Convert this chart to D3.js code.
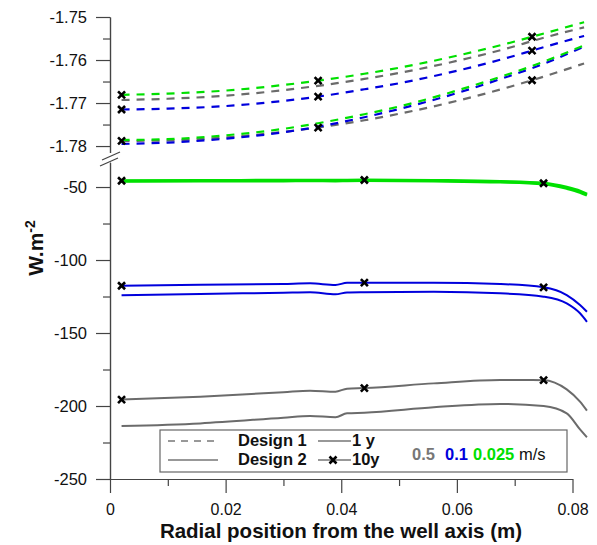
<!DOCTYPE html>
<html>
<head>
<meta charset="utf-8">
<script src="https://cdn.jsdelivr.net/npm/d3@7"></script>
<style>
  body { margin: 0; background: #fff; }
  text { font-family: Arial, "Liberation Sans", sans-serif; }
</style>
</head>
<body>
<div id="chart"></div>
<script>
// ---------------- data ----------------
// Design 1 (dashed, upper broken axis part)
const topX = [0.002, 0.01, 0.02, 0.03, 0.036, 0.044, 0.05, 0.06, 0.07, 0.073, 0.082];
const d1Green10y = [-1.7681, -1.7678, -1.7671, -1.7658, -1.7648, -1.7632, -1.7618, -1.7590, -1.7557, -1.7546, -1.7512];
const d1Gray1y   = [-1.7693, -1.7690, -1.7683, -1.7670, -1.7660, -1.7644, -1.7630, -1.7602, -1.7568, -1.7556, -1.7524];
const d1Blue10y  = [-1.7715, -1.7713, -1.7707, -1.7695, -1.7685, -1.7668, -1.7654, -1.7625, -1.7590, -1.7578, -1.7544];
const d1Green1y  = [-1.7786, -1.7784, -1.7775, -1.7760, -1.7747, -1.7726, -1.7708, -1.7671, -1.7628, -1.7614, -1.7566];
const d1Blue1y   = [-1.7795, -1.7792, -1.7783, -1.7768, -1.7755, -1.7733, -1.7714, -1.7677, -1.7633, -1.7619, -1.7569];
const d1Gray10y  = [-1.7788, -1.7787, -1.7780, -1.7767, -1.7757, -1.7740, -1.7725, -1.7695, -1.7659, -1.7647, -1.7608];
const topMarkerX = [0.002, 0.036, 0.073];

// Design 2 (solid, lower part)
const botX = [0.002, 0.0156, 0.03, 0.0346, 0.039, 0.041, 0.044, 0.056, 0.0675, 0.075, 0.079, 0.0813, 0.0825];
const d2Green10y = [-45.7, -45.5, -45.4, -45.3, -45.4, -45.3, -45.2, -45.5, -46.2, -47.4, -50.2, -52.8, -54.8];
const d2Green1y  = [-46.1, -45.9, -45.8, -45.7, -45.8, -45.7, -45.6, -45.9, -46.6, -47.9, -50.9, -53.6, -55.6];
const d2Blue10y  = [-117.6, -117.0, -116.4, -116.0, -117.1, -115.6, -115.5, -115.5, -116.4, -118.7, -124.0, -130.8, -135.4];
const d2Blue1y   = [-124.2, -123.3, -122.4, -122.1, -123.5, -122.2, -122.0, -121.7, -122.8, -125.1, -129.7, -136.5, -142.3];
const d2Gray10y  = [-195.6, -193.6, -190.6, -189.5, -190.2, -188.1, -187.7, -184.5, -182.2, -182.3, -188.6, -197.0, -203.2];
const d2Gray1y   = [-213.7, -211.9, -208.0, -206.8, -207.7, -205.0, -204.6, -200.9, -198.6, -200.0, -205.0, -216.0, -221.4];
const botMarkerX = [0.002, 0.044, 0.075];

// ticks
const xMajor = [0, 0.02, 0.04, 0.06, 0.08];
const xMinor = [0.01, 0.03, 0.05, 0.07];
const topMajor = [-1.78, -1.77, -1.76, -1.75];
const topMinor = [-1.775, -1.765, -1.755];
const botMajor = [-250, -200, -150, -100, -50];
const botMinor = [-225, -175, -125, -75];

const speeds = ["0.5", "0.1", "0.025"];

// ---------------- setup ----------------
const width = 597, height = 545;
const colors = { gray: "#6b6b6b", blue: "#0000dc", green: "#00e000" };

const svg = d3.select("#chart").append("svg")
  .attr("width", width).attr("height", height);

const x = d3.scaleLinear().domain([0, 0.08]).range([110, 572.5]);
const yTop = d3.scaleLinear().domain([-1.7815, -1.75]).range([152.5, 17]);
const yBot = d3.scaleLinear().domain([-250, -33]).range([479, 162.2]);

const axisColor = "#444";

// ---------------- axes ----------------
function styleAxis(g, size) {
  g.selectAll("path, line").attr("stroke", axisColor).attr("stroke-width", 1.2);
  g.selectAll("text").attr("font-size", size || 16.5).attr("fill", "#111")
    .attr("font-family", "Arial, 'Liberation Sans', sans-serif");
}

svg.append("g").attr("transform", "translate(110,0)")
  .call(d3.axisLeft(yTop).tickValues(topMajor).tickSize(14).tickSizeOuter(0).tickPadding(9)
    .tickFormat(d => d.toFixed(2)))
  .call(styleAxis);
svg.append("g").attr("transform", "translate(110,0)")
  .call(d3.axisLeft(yTop).tickValues(topMinor).tickSize(7).tickSizeOuter(0).tickFormat(""))
  .call(styleAxis);

svg.append("g").attr("transform", "translate(110,0)")
  .call(d3.axisLeft(yBot).tickValues(botMajor).tickSize(14).tickSizeOuter(0).tickPadding(9)
    .tickFormat(d => String(d)))
  .call(styleAxis);
svg.append("g").attr("transform", "translate(110,0)")
  .call(d3.axisLeft(yBot).tickValues(botMinor).tickSize(7).tickSizeOuter(0).tickFormat(""))
  .call(styleAxis);

svg.append("g").attr("transform", "translate(0,479)")
  .call(d3.axisBottom(x).tickValues(xMajor).tickSize(14).tickSizeOuter(0).tickPadding(11)
    .tickFormat(d => d === 0 ? "0" : d.toFixed(2)))
  .call(g => styleAxis(g, 16));
svg.append("g").attr("transform", "translate(0,479)")
  .call(d3.axisBottom(x).tickValues(xMinor).tickSize(7).tickSizeOuter(0).tickFormat(""))
  .call(styleAxis);

// axis break marks
svg.append("rect").attr("x", 105).attr("y", 153).attr("width", 10).attr("height", 9).attr("fill", "#fff");
[[102, 160, 120, 152], [100, 166, 118, 158]].forEach(([x1, y1, x2, y2]) => {
  svg.append("line").attr("x1", x1).attr("y1", y1).attr("x2", x2).attr("y2", y2)
    .attr("stroke", axisColor).attr("stroke-width", 1.2);
});

// axis titles
svg.append("text")
  .attr("transform", "translate(43,248) rotate(-90)")
  .attr("text-anchor", "middle")
  .attr("font-size", 21).attr("font-weight", "bold").attr("fill", "#111")
  .call(t => {
    t.append("tspan").text("W.m");
    t.append("tspan").attr("dy", -8).attr("font-size", 14).text("-2");
  });

svg.append("text")
  .attr("x", 341).attr("y", 538)
  .attr("text-anchor", "middle")
  .attr("font-size", 20.5).attr("font-weight", "bold").attr("fill", "#111")
  .text("Radial position from the well axis (m)");

// ---------------- series ----------------
const series = [
  { xs: topX, ys: d1Gray1y, y: yTop, color: colors.gray, dashed: true, markers: null },
  { xs: topX, ys: d1Gray10y, y: yTop, color: colors.gray, dashed: true, markers: topMarkerX },
  { xs: topX, ys: d1Blue1y, y: yTop, color: colors.blue, dashed: true, markers: null },
  { xs: topX, ys: d1Blue10y, y: yTop, color: colors.blue, dashed: true, markers: topMarkerX },
  { xs: topX, ys: d1Green1y, y: yTop, color: colors.green, dashed: true, markers: null },
  { xs: topX, ys: d1Green10y, y: yTop, color: colors.green, dashed: true, markers: topMarkerX },
  { xs: botX, ys: d2Gray1y, y: yBot, color: colors.gray, dashed: false, markers: null, w: 2 },
  { xs: botX, ys: d2Gray10y, y: yBot, color: colors.gray, dashed: false, markers: botMarkerX, w: 2 },
  { xs: botX, ys: d2Blue1y, y: yBot, color: colors.blue, dashed: false, markers: null, w: 2 },
  { xs: botX, ys: d2Blue10y, y: yBot, color: colors.blue, dashed: false, markers: botMarkerX, w: 2 },
  { xs: botX, ys: d2Green1y, y: yBot, color: colors.green, dashed: false, markers: null, w: 3 },
  { xs: botX, ys: d2Green10y, y: yBot, color: colors.green, dashed: false, markers: botMarkerX, w: 3 }
];

const lines = svg.append("g");
series.forEach(s => {
  const pts = s.xs.map((v, i) => [v, s.ys[i]]);
  const line = d3.line().x(d => x(d[0])).y(d => s.y(d[1])).curve(d3.curveMonotoneX);
  lines.append("path")
    .datum(pts)
    .attr("d", line)
    .attr("fill", "none")
    .attr("stroke", s.color)
    .attr("stroke-width", s.dashed ? 2.2 : s.w)
    .attr("stroke-dasharray", s.dashed ? "8,7" : null);
});

// 10y markers
function cross(g, cx, cy, r) {
  g.append("path")
    .attr("d", `M${cx - r},${cy - r}L${cx + r},${cy + r}M${cx - r},${cy + r}L${cx + r},${cy - r}`)
    .attr("stroke", "#000").attr("stroke-width", 2.6).attr("fill", "none");
}
const marks = svg.append("g");
series.filter(s => s.markers).forEach(s => {
  s.xs.forEach((v, i) => {
    if (s.markers.includes(v)) cross(marks, x(v), s.y(s.ys[i]), 3.5);
  });
});

// ---------------- legend ----------------
const lg = svg.append("g");
lg.append("rect").attr("x", 160).attr("y", 430).attr("width", 407).attr("height", 42)
  .attr("fill", "#fff").attr("stroke", "#666").attr("stroke-width", 1.2);

lg.append("line").attr("x1", 168).attr("y1", 441).attr("x2", 218).attr("y2", 441)
  .attr("stroke", "#333").attr("stroke-width", 1).attr("stroke-dasharray", "7,6");
lg.append("line").attr("x1", 168).attr("y1", 460).attr("x2", 218).attr("y2", 460)
  .attr("stroke", "#333").attr("stroke-width", 1.2);
lg.append("text").attr("x", 238).attr("y", 446).attr("font-size", 16.5).attr("font-weight", "bold")
  .attr("fill", "#111").text("Design 1");
lg.append("text").attr("x", 238).attr("y", 465).attr("font-size", 16.5).attr("font-weight", "bold")
  .attr("fill", "#111").text("Design 2");

lg.append("line").attr("x1", 318).attr("y1", 441).attr("x2", 351).attr("y2", 441)
  .attr("stroke", "#333").attr("stroke-width", 1.2);
lg.append("line").attr("x1", 318).attr("y1", 460).attr("x2", 351).attr("y2", 460)
  .attr("stroke", "#333").attr("stroke-width", 1.2);
cross(lg, 333, 460, 3.5);
lg.append("text").attr("x", 352).attr("y", 446).attr("font-size", 16.5).attr("font-weight", "bold")
  .attr("fill", "#111").text("1 y");
lg.append("text").attr("x", 352).attr("y", 465).attr("font-size", 16.5).attr("font-weight", "bold")
  .attr("fill", "#111").text("10y");

const speedX = [412, 445, 473];
const speedColors = ["#777", colors.blue, colors.green];
speeds.forEach((s, i) => {
  lg.append("text").attr("x", speedX[i]).attr("y", 460).attr("font-size", 16.5)
    .attr("font-weight", "bold").attr("fill", speedColors[i]).text(s);
});
lg.append("text").attr("x", 519).attr("y", 460).attr("font-size", 16.5)
  .attr("fill", "#111").text("m/s");
</script>
</body>
</html>
